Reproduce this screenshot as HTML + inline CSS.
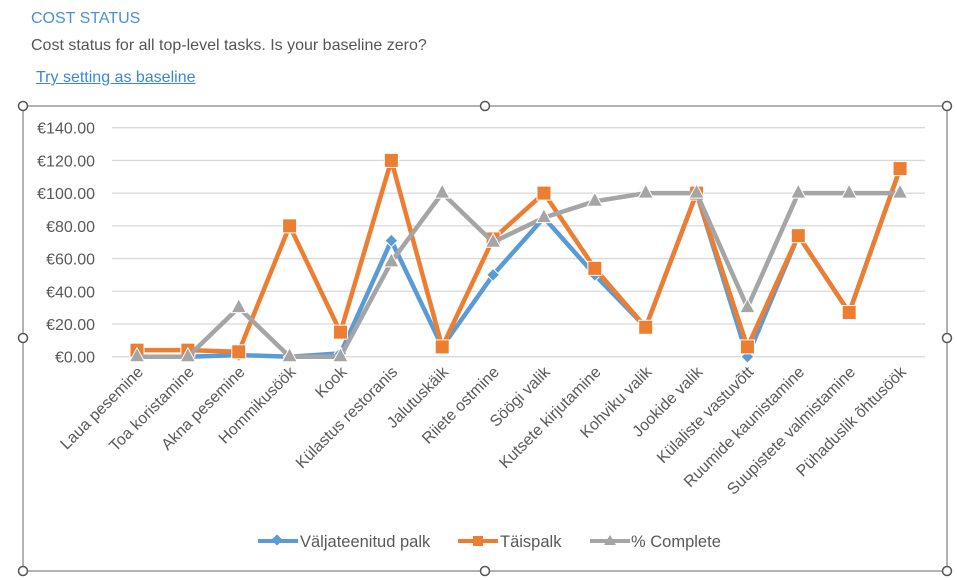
<!DOCTYPE html>
<html><head><meta charset="utf-8"><style>
body{margin:0;width:957px;height:580px;background:#fff;font-family:"Liberation Sans",sans-serif;overflow:hidden;position:relative}
.t{position:absolute;left:31px;top:10px;font-size:16px;color:#4a90d9}
.s{position:absolute;left:31px;top:37px;font-size:16px;color:#555}
.l{position:absolute;left:36px;top:69px;font-size:16px;color:#3a87d6;text-decoration:underline}
svg{position:absolute;left:0;top:0}
</style></head><body>
<div class="t">COST STATUS</div>
<div class="s">Cost status for all top-level tasks. Is your baseline zero?</div>
<div class="l">Try setting as baseline</div>
<svg width="957" height="580" font-family="Liberation Sans, sans-serif">
<rect x="23" y="106" width="924" height="465" fill="none" stroke="#666" stroke-width="1"/>
<g fill="#fff" stroke="#555" stroke-width="1.5">
<circle cx="23" cy="106" r="4.5"/><circle cx="485" cy="106" r="4.5"/><circle cx="947" cy="106" r="4.5"/>
<circle cx="23" cy="338" r="4.5"/><circle cx="947" cy="338" r="4.5"/>
<circle cx="23" cy="571" r="4.5"/><circle cx="485" cy="571" r="4.5"/><circle cx="947" cy="571" r="4.5"/>
</g>
<g id="grid" stroke="#d9d9d9" stroke-width="1.3"></g>
<g id="yl" font-size="16" fill="#595959" text-anchor="end"></g>
<g id="xl" font-size="16" fill="#595959" text-anchor="end"></g>
<g id="ser"></g>
<g font-size="16.5" fill="#595959">
<line x1="258" y1="541" x2="298" y2="541" stroke="#5b9bd5" stroke-width="4"/><rect x="273" y="536" width="8" height="8" fill="#5b9bd5" transform="rotate(45 277 540)"/>
<text x="300" y="547">Väljateenitud palk</text>
<line x1="458" y1="541" x2="498" y2="541" stroke="#ed7d31" stroke-width="4"/><rect x="473" y="536" width="10" height="10" fill="#ed7d31"/>
<text x="500" y="547">Täispalk</text>
<line x1="590" y1="541" x2="630" y2="541" stroke="#a5a5a5" stroke-width="4"/><polygon points="610,535 616,545 604,545" fill="#a5a5a5"/>
<text x="631" y="547">% Complete</text>
</g>
</svg>
<script>
const ns="http://www.w3.org/2000/svg";
function el(p,t,a,txt){const e=document.createElementNS(ns,t);for(const k in a)e.setAttribute(k,a[k]);if(txt!=null)e.textContent=txt;document.getElementById(p).appendChild(e);return e;}
const y0=356.7,k=229/140,x0=137,dx=50.87;
const Y=v=>y0-v*k,X=i=>x0+i*dx;
for(let v=0;v<=140;v+=20){el("grid","line",{x1:112,x2:925,y1:Y(v),y2:Y(v)});el("yl","text",{x:95,y:Y(v)+6},"€"+v+".00");}
const cats=["Laua pesemine","Toa koristamine","Akna pesemine","Hommikusöök","Kook","Külastus restoranis","Jalutuskäik","Riiete ostmine","Söögi valik","Kutsete kirjutamine","Kohviku valik","Jookide valik","Külaliste vastuvõtt","Ruumide kaunistamine","Suupistete valmistamine","Pühaduslik õhtusöök"];
cats.forEach((c,i)=>el("xl","text",{x:X(i)+7,y:373,transform:`rotate(-45 ${X(i)+7} 373)`},c));
const blue=[0,0,1,0,2,71,6,50,85,50,18,100,0,74,27,115];
const orange=[4,4,3,80,15,120,6,72,100,54,18,100,6,74,27,115];
const grey=[0,0,30,0,0,58,100,70,85,95,100,100,30,100,100,100];
function line(d,c){el("ser","polyline",{points:d.map((v,i)=>X(i)+","+Y(v)).join(" "),fill:"none",stroke:c,"stroke-width":4.5,"stroke-linejoin":"round"});}
line(blue,"#5b9bd5");
blue.forEach((v,i)=>el("ser","rect",{x:X(i)-4.5,y:Y(v)-4.5,width:9,height:9,fill:"#5b9bd5",stroke:"#fff","stroke-width":1,transform:`rotate(45 ${X(i)} ${Y(v)})`}));
line(orange,"#ed7d31");
orange.forEach((v,i)=>el("ser","rect",{x:X(i)-7,y:Y(v)-7,width:14,height:14,fill:"#ed7d31",stroke:"#fff","stroke-width":1}));
line(grey,"#a5a5a5");
grey.forEach((v,i)=>{const x=X(i),y=Y(v);el("ser","polygon",{points:`${x},${y-9} ${x+7.5},${y+5} ${x-7.5},${y+5}`,fill:"#a5a5a5",stroke:"#fff","stroke-width":1});});
</script>
</body></html>
